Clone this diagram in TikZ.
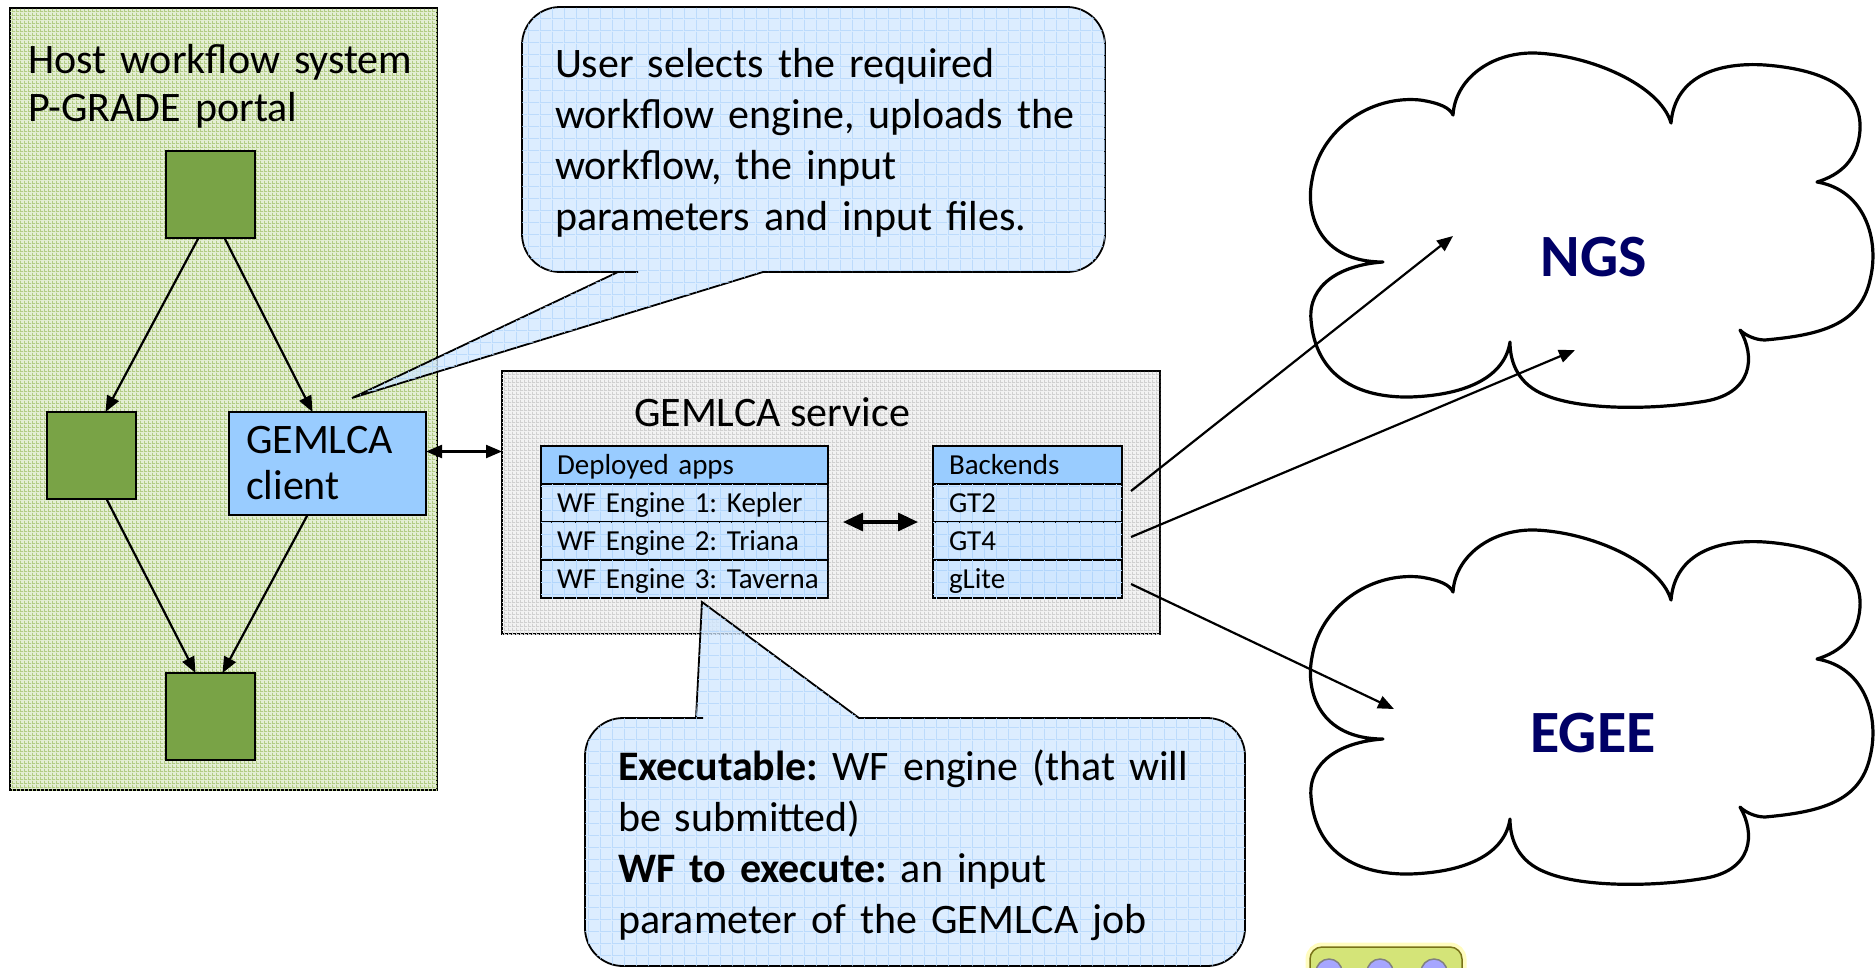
\documentclass[tikz,border=0pt]{standalone}
\usepackage{fontspec}
\setmainfont{Carlito}
\usepackage{xcolor}
\usepackage{tikz}
\usetikzlibrary{positioning,arrows.meta,patterns}
\frenchspacing

\definecolor{hostgreen}{RGB}{228,238,212}
\definecolor{hostgrid}{RGB}{178,204,132}
\definecolor{jobgreen}{RGB}{121,163,70}
\definecolor{headblue}{RGB}{153,204,255}
\definecolor{paleblue}{RGB}{208,231,255}
\definecolor{gridblue}{RGB}{178,214,252}
\definecolor{servicegray}{RGB}{242,242,242}
\definecolor{servicegrid}{RGB}{208,208,208}
\definecolor{gridnavy}{RGB}{0,0,102}
\definecolor{iconfill}{RGB}{212,228,120}

% grid textures used as fills
\pgfdeclarepatternformonly{finegrid}{\pgfpointorigin}{\pgfqpoint{4pt}{4pt}}{\pgfqpoint{4pt}{4pt}}{%
  \pgfsetlinewidth{1pt}%
  \pgfpathmoveto{\pgfqpoint{0pt}{0.5pt}}\pgfpathlineto{\pgfqpoint{4pt}{0.5pt}}%
  \pgfpathmoveto{\pgfqpoint{0.5pt}{0pt}}\pgfpathlineto{\pgfqpoint{0.5pt}{4pt}}%
  \pgfusepath{stroke}}
\pgfdeclarepatternformonly{coarsegrid}{\pgfpointorigin}{\pgfqpoint{12pt}{12pt}}{\pgfqpoint{12pt}{12pt}}{%
  \pgfsetlinewidth{1pt}%
  \pgfpathmoveto{\pgfqpoint{0pt}{0.5pt}}\pgfpathlineto{\pgfqpoint{12pt}{0.5pt}}%
  \pgfpathmoveto{\pgfqpoint{0.5pt}{0pt}}\pgfpathlineto{\pgfqpoint{0.5pt}{12pt}}%
  \pgfusepath{stroke}}

\tikzset{
  cloudshape/.pic={
    \draw[line width=3.2pt, line join=round, fill=white]
      (1383,262) .. controls (1320,262) and (1305,215) .. (1312,180)
      .. controls (1320,130) and (1370,95) .. (1420,100)
      .. controls (1440,103) and (1450,108) .. (1453,115)
      .. controls (1455,80) and (1490,52) .. (1535,53)
      .. controls (1590,55) and (1660,85) .. (1671,123)
      .. controls (1675,75) and (1720,62) .. (1765,65)
      .. controls (1830,70) and (1862,92) .. (1860,130)
      .. controls (1858,160) and (1840,175) .. (1817,182)
      .. controls (1865,190) and (1880,240) .. (1870,280)
      .. controls (1860,325) and (1820,335) .. (1765,340)
      .. controls (1755,340) and (1745,335) .. (1740,330)
      .. controls (1755,355) and (1755,395) .. (1700,402)
      .. controls (1650,410) and (1580,410) .. (1545,395)
      .. controls (1520,385) and (1510,365) .. (1510,342)
      .. controls (1505,375) and (1470,395) .. (1410,397)
      .. controls (1350,398) and (1315,370) .. (1311,320)
      .. controls (1308,285) and (1340,265) .. (1383,262) -- cycle;
  }
}

\begin{document}
\begin{tikzpicture}[x=1pt, y=-1pt, inner sep=0pt, outer sep=0pt,
    job/.style={draw, line width=1.8pt, fill=jobgreen, minimum width=89pt, minimum height=87pt},
    flow/.style={line width=2.2pt, -{Triangle[length=16pt,width=13pt]}},
    twoway/.style={line width=2.2pt, {Triangle[length=16pt,width=13pt]}-{Triangle[length=16pt,width=13pt]}},
    bigtwoway/.style={line width=3.2pt, {Triangle[length=20pt,width=18pt]}-{Triangle[length=20pt,width=18pt]}},
    big/.style={font=\fontsize{42}{51}\selectfont},
    rowbase/.style={draw, line width=1.8pt, minimum height=38pt, inner xsep=16pt, align=left,
      text width=#1, text height=24pt, text depth=6pt, font=\fontsize{29}{34}\selectfont},
    head/.style={rowbase=#1, fill=headblue},
    cell/.style={rowbase=#1, fill=paleblue, postaction={pattern=coarsegrid, pattern color=gridblue}},
    callout/.style={draw, line width=1.8pt, fill=paleblue, fill opacity=0.75,
      postaction={pattern=coarsegrid, pattern color=gridblue}},
  ]
  \clip (0,0) rectangle (1876,967);

  % host workflow system
  \node[draw, line width=1.8pt, fill=hostgreen, postaction={pattern=finegrid, pattern color=hostgrid},
    minimum width=427pt, minimum height=782pt, anchor=north west] (host) at (10,8) {};
  \node[font=\fontsize{42}{48}\selectfont, text width=400pt, align=left, anchor=base west] (hostlabel)
    at (28,73) {Host workflow system\\P-GRADE portal};

  \node[job] (topjob) at (210.5,194.5) {};
  \node[job, below left=174pt and 30pt of topjob] (leftjob) {};
  \node[draw, line width=1.8pt, fill=headblue, minimum width=197pt, minimum height=103pt,
    inner xsep=17pt, text width=163pt, align=left, font=\fontsize{42}{46}\selectfont,
    below right=174pt and -26pt of topjob] (client) {GEMLCA\\client};
  \node[job, below=435pt of topjob] (lastjob) {};

  \draw[flow] ([xshift=-12pt]topjob.south) -- ([xshift=14pt]leftjob.north);
  \draw[flow] ([xshift=14pt]topjob.south) -- ([xshift=-15pt]client.north);
  \draw[flow] ([xshift=15pt]leftjob.south) -- ([xshift=-15pt]lastjob.north);
  \draw[flow] ([xshift=-20pt]client.south) -- ([xshift=12pt]lastjob.north);

  % GEMLCA service
  \node[draw, line width=1.8pt, fill=servicegray, postaction={pattern=finegrid, pattern color=servicegrid},
    minimum width=658pt, minimum height=263pt, anchor=north west] (service) at (502,371) {};
  \node[big, anchor=base west] (servicelabel) at (634,426) {GEMLCA service};

  \draw[twoway] ([yshift=12pt]client.east) -- ([yshift=12pt]client.east -| service.west);

  \node[head=255pt, anchor=north west] (apps) at (541,446) {Deployed apps};
  \node[cell=255pt, below=0pt of apps] (kepler) {\mbox{WF Engine 1: Kepler}};
  \node[cell=255pt, below=0pt of kepler] (triana) {\mbox{WF Engine 2: Triana}};
  \node[cell=255pt, below=0pt of triana] (taverna) {\mbox{WF Engine 3: Taverna}};

  \node[head=157pt, anchor=north west] (backends) at (933,446) {Backends};
  \node[cell=157pt, below=0pt of backends] (gttwo) {GT2};
  \node[cell=157pt, below=0pt of gttwo] (gtfour) {GT4};
  \node[cell=157pt, below=0pt of gtfour] (glite) {gLite};

  \draw[bigtwoway] ([xshift=15pt]kepler.south east) -- ([xshift=-15pt]gttwo.south west);

  % callouts
  \draw[callout] (763,272) -- (900,272) [rounded corners=38pt] -- (1105,272) -- (1105,7) -- (522,7)
    -- (522,272) -- (600,272) [sharp corners] -- (618,272) -- (352,398) -- cycle;
  \node[big, text width=560pt, align=left, anchor=base west] (usertext) at (555,77)
    {User selects the required\\workflow engine, uploads the\\workflow, the input\\parameters and input files.};

  \draw[callout] (859,718) -- (1000,718) [rounded corners=38pt] -- (1245,718) -- (1245,966) -- (585,966)
    -- (585,718) -- (665,718) [sharp corners] -- (696,718) -- (702,602) -- cycle;
  \node[big, text width=620pt, align=left, anchor=base west] (exectext) at (618,780)
    {\textbf{Executable:} WF engine (that will\\be submitted)\\\textbf{WF to execute:} an input\\parameter of the GEMLCA job};

  % grids
  \pic at (0,0) {cloudshape};
  \pic at (0,477) {cloudshape};
  \node[font=\fontsize{60}{60}\selectfont\bfseries, text=gridnavy] (ngs) at (1594,257) {NGS};
  \node[font=\fontsize{60}{60}\selectfont\bfseries, text=gridnavy] (egee) at (1593,733) {EGEE};

  \coordinate (ngsin) at (1453,236);
  \coordinate (ngsmid) at (1575,350);
  \coordinate (egeein) at (1394,709);
  \draw[flow] ([shift={(9,-12)}]gttwo.east) -- (ngsin);
  \draw[flow] ([shift={(9,-4)}]gtfour.east) -- (ngsmid);
  \draw[flow] ([shift={(9,5)}]glite.east) -- (egeein);

  % corner icon
  \draw[line width=5pt, yellow!25, rounded corners=14pt] (1308,945) rectangle (1464,997);
  \draw[line width=1.5pt, draw=olive!80!black, fill=iconfill, rounded corners=12pt] (1310,947) rectangle (1462,995);
  \foreach \cx in {1329,1380,1434}
    \draw[line width=1.5pt, draw=gray, fill=blue!35] (\cx,972) circle[radius=13pt];
\end{tikzpicture}
\end{document}
